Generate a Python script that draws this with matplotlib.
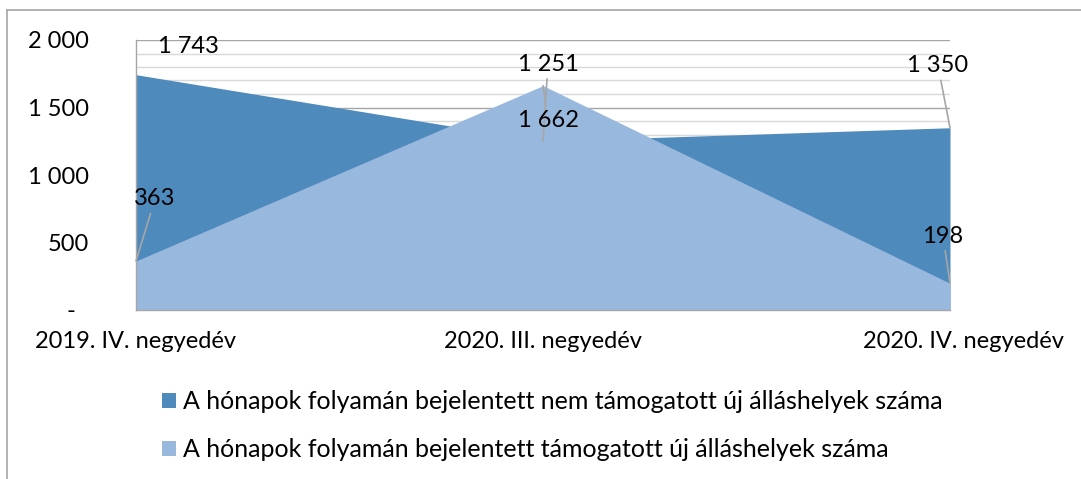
import matplotlib
matplotlib.use("Agg")
import matplotlib.pyplot as plt
from matplotlib.patches import Patch
from matplotlib.lines import Line2D
import matplotlib.transforms as mtransforms

plt.rcParams['font.family'] = ['Lato', 'DejaVu Sans']

categories = ["2019. IV. negyedév", "2020. III. negyedév", "2020. IV. negyedév"]
nem_tamogatott = [1743, 1251, 1350]
tamogatott = [363, 1662, 198]
series_names = ["A hónapok folyamán bejelentett nem támogatott új álláshelyek száma",
                "A hónapok folyamán bejelentett támogatott új álláshelyek száma"]
ytick_values = [0, 500, 1000, 1500, 2000]
ytick_labels = ["-", "500", "1 000", "1 500", "2 000"]

dark = "#4f8abd"
light = "#98b8de"
FS = 17

W, H = 1081, 479
fig = plt.figure(figsize=(W / 100, H / 100), dpi=100)
ax = fig.add_axes([136 / W, 1 - 310 / H, (950 - 136) / W, (310 - 40) / H])

x = list(range(len(categories)))
ax.set_xlim(0, len(categories) - 1)
ax.set_ylim(0, 2000)

# gridlines
for v in range(100, 2001, 100):
    ax.axhline(v, color="#a6a6a6" if v % 500 == 0 else "#d9d9d9", lw=1.0, zorder=0)

ax.fill_between(x, nem_tamogatott, 0, color=dark, lw=0, zorder=1)
ax.fill_between(x, tamogatott, 0, color=light, lw=0, zorder=2)

for s in ["top", "right"]:
    ax.spines[s].set_visible(False)
for s in ["left", "bottom"]:
    ax.spines[s].set_color("#a6a6a6")
    ax.spines[s].set_linewidth(1.0)

ax.set_yticks(ytick_values)
ax.set_yticklabels(ytick_labels)
ax.set_xticks(x)
ax.set_xticklabels(categories)
ax.tick_params(axis="y", length=0, pad=34, labelsize=FS)
ax.tick_params(axis="x", length=0, pad=15, labelsize=FS)
# shift last x label slightly right (3D offset in reference)
lbls = ax.get_xticklabels()
lbls[-1].set_transform(lbls[-1].get_transform() + mtransforms.ScaledTranslation(13 / 100, 0, fig.dpi_scale_trans))
# zero label ("-") sits a bit further left in accounting format
ylbls = ax.get_yticklabels()
ylbls[0].set_transform(ylbls[0].get_transform() + mtransforms.ScaledTranslation(-13 / 100, 0, fig.dpi_scale_trans))

def fmt(v):
    return f"{v:,}".replace(",", " ")

lead = dict(arrowstyle="-", color="#a6a6a6", lw=1.2, shrinkA=1, shrinkB=0)
# (value, x index, offset dx, dy, leader)
ann = [
    (nem_tamogatott[0], 0, 52, 28, False),
    (tamogatott[0], 0, 19, 62, True),
    (nem_tamogatott[1], 1, 5, 77, True),
    (tamogatott[1], 1, 5, -35, True),
    (nem_tamogatott[2], 2, -12, 62, True),
    (tamogatott[2], 2, -7, 47, True),
]
for v, i, dx, dy, hasline in ann:
    ax.annotate(fmt(v), xy=(i, v), xytext=(dx, dy), textcoords="offset pixels",
                ha="center", va="center", fontsize=FS, color="black", zorder=5,
                arrowprops=lead if hasline else None, annotation_clip=False)

handles = [Patch(facecolor=dark, edgecolor="none"), Patch(facecolor=light, edgecolor="none")]
fig.legend(handles, series_names, loc="center left",
           bbox_to_anchor=(162 / W, 1 - 425.5 / H), frameon=False, fontsize=18,
           handlelength=0.55, handleheight=0.55, handletextpad=0.28,
           labelspacing=1.0, borderpad=0, borderaxespad=0)

# chart area border (top and left)
fig.add_artist(Line2D([7 / W, 1], [1 - 10 / H, 1 - 10 / H], transform=fig.transFigure, color="#a6a6a6", lw=1.2))
fig.add_artist(Line2D([7 / W, 7 / W], [1 - 10 / H, 0], transform=fig.transFigure, color="#a6a6a6", lw=1.2))

fig.savefig("out.png", dpi=100, facecolor="white")
